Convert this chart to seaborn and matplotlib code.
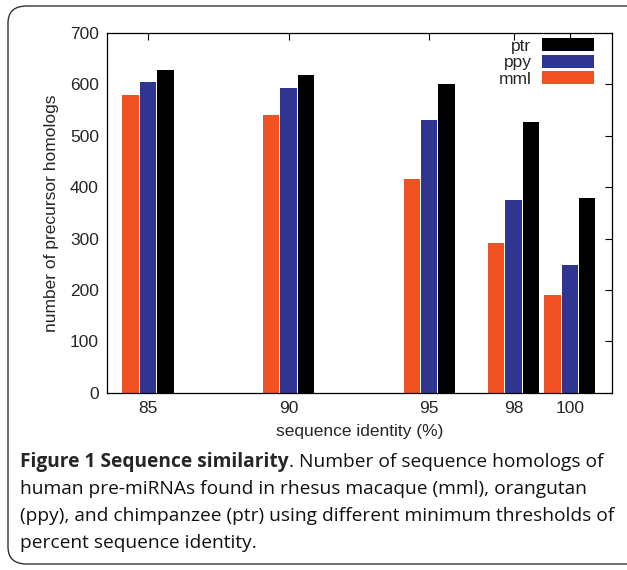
import matplotlib
matplotlib.use("Agg")
import matplotlib.pyplot as plt
from matplotlib.patches import FancyBboxPatch
import seaborn as sns
import pandas as pd

identity = [85, 90, 95, 98, 100]
mml = [580, 540, 416, 292, 190]
ppy = [605, 593, 530, 375, 248]
ptr = [628, 618, 600, 527, 379]
species = ["mml", "ppy", "ptr"]
colors = {"mml": "#F05223", "ppy": "#2F3590", "ptr": "#000000"}

rows = []
for sp, vals in zip(species, [mml, ppy, ptr]):
    for x, v in zip(identity, vals):
        rows.append({"identity": x, "count": v, "species": sp})
df = pd.DataFrame(rows)

sns.set_style("white")
plt.rcParams['font.family'] = ['Liberation Sans', 'DejaVu Sans']

fig = plt.figure(figsize=(6.27, 5.70), dpi=100)
ax = fig.add_axes([0.171, 0.311, 0.805, 0.631])

sns.barplot(data=df, x="identity", y="count", hue="species", hue_order=species,
            palette=colors, native_scale=True, width=0.93, gap=0.06,
            ax=ax, saturation=1, errorbar=None, edgecolor="none")

ax.set_xlim(83.55, 101.5)
ax.set_ylim(0, 700)
ax.set_xticks(identity)
ax.set_xticklabels([str(v) for v in identity])
ax.set_yticks(range(0, 701, 100))
ax.tick_params(axis="both", direction="in", top=True, right=True, length=5,
               width=0.8, color="black", labelsize=12.5, pad=6)
for s in ax.spines.values():
    s.set_visible(True)
    s.set_color("black")
    s.set_linewidth(0.9)
ax.set_xlabel("sequence identity (%)", fontsize=12.5, labelpad=6)
ax.set_ylabel("number of precursor homologs", fontsize=12.5, labelpad=8)

handles, labels = ax.get_legend_handles_labels()
order = [labels.index(s) for s in ["ptr", "ppy", "mml"]]
leg = ax.legend([handles[i] for i in order], [labels[i] for i in order],
                loc="upper right", frameon=False, markerfirst=False,
                fontsize=12.5, handlelength=3.0, handleheight=0.8,
                labelspacing=0.05, borderaxespad=0.2, handletextpad=0.6,
                bbox_to_anchor=(0.985, 1.015))

# rounded border
box = FancyBboxPatch((8 / 627, 6 / 570), 640 / 627, 558 / 570,
                     boxstyle="round,pad=0,rounding_size=0.03",
                     transform=fig.transFigure, fill=False,
                     edgecolor="#333333", linewidth=1.0)
fig.patches.append(box)

cap_font = ['Open Sans', 'DejaVu Sans']
fs = 13.8
t1 = fig.text(20 / 627, 1 - 462 / 570, "Figure 1 Sequence similarity",
              fontsize=fs, fontweight="bold", family=cap_font, va="center")
fig.canvas.draw()
bb = t1.get_window_extent(renderer=fig.canvas.get_renderer())
fig.text(bb.x1 / fig.bbox.width, 1 - 462 / 570,
         ". Number of sequence homologs of", fontsize=fs, family=cap_font,
         va="center", color="#111111")
lines = ["human pre-miRNAs found in rhesus macaque (mml), orangutan",
         "(ppy), and chimpanzee (ptr) using different minimum thresholds of",
         "percent sequence identity."]
for i, ln in enumerate(lines):
    fig.text(20 / 627, 1 - (489 + 27 * i) / 570, ln, fontsize=fs,
             family=cap_font, va="center", color="#111111")

fig.savefig("out.png", dpi=100)
